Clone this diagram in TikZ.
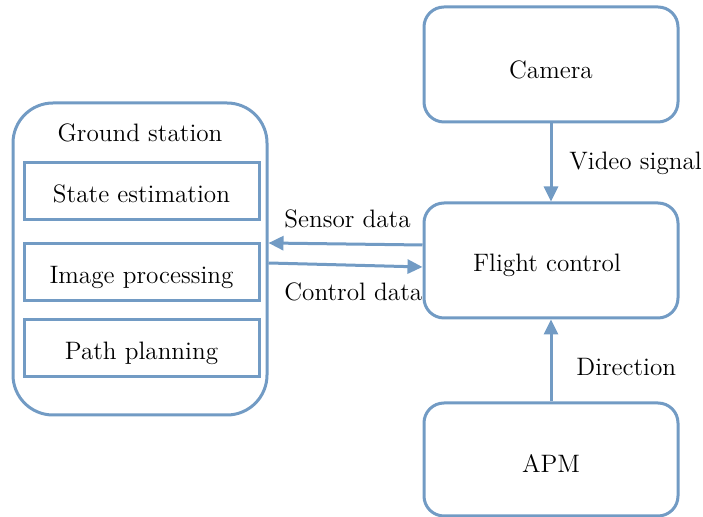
\documentclass[tikz,border=0pt]{standalone}
\usepackage{fontspec}
\usetikzlibrary{arrows.meta}
\definecolor{lineblue}{RGB}{114,155,196}
\begin{document}
\begin{tikzpicture}[x=0.5pt,y=-0.5pt,
  every node/.style={font=\rmfamily\fontsize{12.6}{15}\selectfont, inner sep=0pt, text=black},
  bigbox/.style={draw=lineblue, line width=1.5pt, rounded corners=10pt, minimum width=127pt, minimum height=57.5pt, text depth=0pt},
  innerbox/.style={draw=lineblue, line width=1.5pt, minimum width=117.5pt, minimum height=28.5pt, text height=11.5pt, text depth=0pt},
  conn/.style={draw=lineblue, line width=1.5pt, -{Triangle[length=7.5pt,width=7pt]}},
  lbl/.style={anchor=base west}]
\useasboundingbox (0,0) rectangle (703,517);
% Ground station
\node[draw=lineblue, line width=1.5pt, rounded corners=20pt, minimum width=127pt, minimum height=156pt] (gs) at (140,259) {};
\node[anchor=base] (gstitle) at (140,142) {Ground station};
\node[innerbox] (se) at (141.5,191.5) {State estimation};
\node[innerbox] (ip) at (141.5,272) {Image processing};
\node[innerbox] (pp) at (141.5,348) {Path planning};
% Right column
\node[bigbox, text height=14.5pt] (cam) at (551,64.5) {Camera};
\node[bigbox, text height=11.5pt] (fc) at (551,260.5) {\hspace*{-4pt}Flight control};
\node[bigbox, text height=13pt, minimum height=56.5pt] (apm) at (551,459.5) {APM};
% Connectors
\draw[conn] (cam.south) -- (fc.north);
\draw[conn] (apm.north) -- (fc.north |- fc.south);
\draw[conn] ([yshift=7.75pt]fc.west) -- ([yshift=8pt]gs.east);
\draw[conn] ([yshift=-2pt]gs.east) -- ([yshift=-3.25pt]fc.west);
% Labels
\node[lbl] (vs) at (569,170) {Video signal};
\node[lbl] (sd) at (284,228) {Sensor data};
\node[lbl] (cd) at (284,301) {Control data};
\node[lbl] (dir) at (576,376) {Direction};
\end{tikzpicture}
\end{document}
